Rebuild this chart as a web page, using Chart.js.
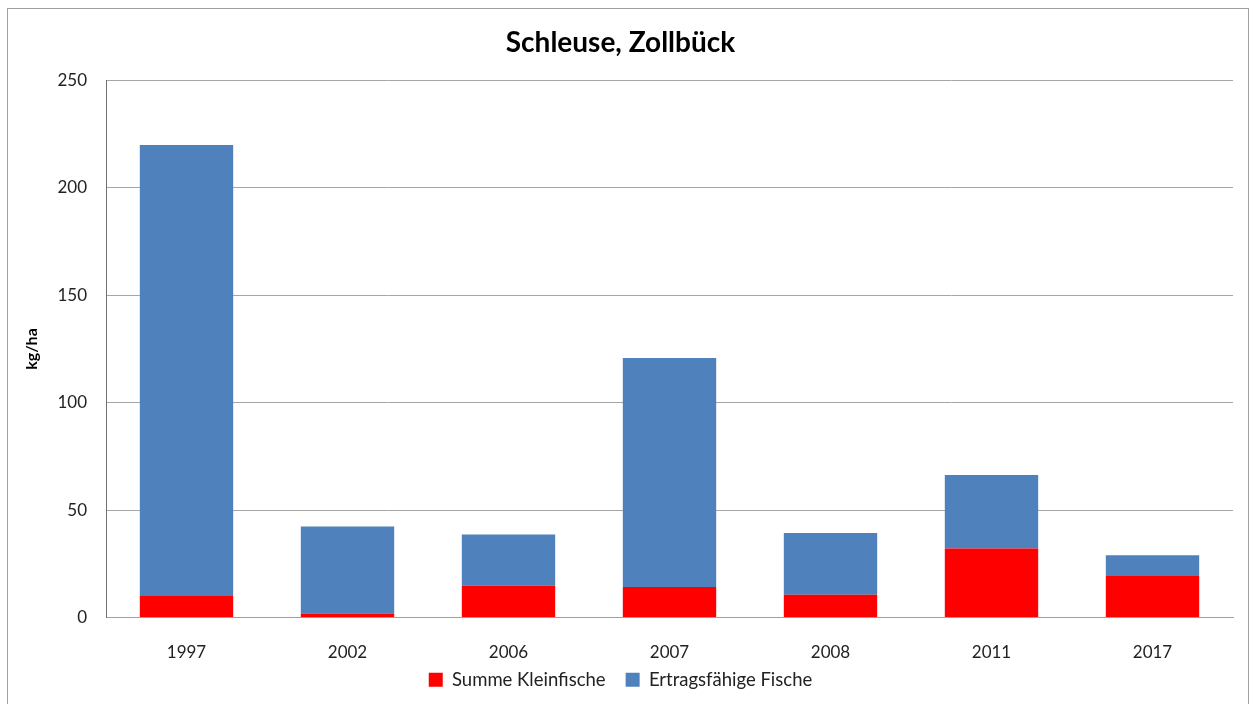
<!DOCTYPE html>
<html>
<head>
<meta charset="utf-8">
<script src="https://cdn.jsdelivr.net/npm/chart.js@4"></script>
<style>
  body { margin: 0; background: #fff; }
  #frame {
    position: absolute; left: 7px; top: 8px;
    width: 1240px; height: 700px;
    border: 1px solid #a0a0a0; overflow: hidden;
  }
</style>
</head>
<body>
<div id="frame"><canvas id="myChart" width="1240" height="700"></canvas></div>
<script>
// Jahre / Werte (kg/ha)
const jahre = ["1997", "2002", "2006", "2007", "2008", "2011", "2017"];
const kleinfische = [10, 1.9, 14.8, 14.2, 10.6, 32.1, 19.3];
const ertragsfaehig = [210, 40.5, 23.8, 106.6, 28.7, 34.2, 9.7];
const yTicks = [0, 50, 100, 150, 200, 250];

const schrift = "Lato, 'Open Sans', sans-serif";

// Legende etwas naeher an die Achsenbeschriftung schieben
const legendeHoch = {
  id: "legendeHoch",
  afterLayout(chart) {
    if (chart.legend) {
      chart.legend.top -= 14;
      chart.legend.bottom -= 14;
    }
  },
};

const ctx = document.getElementById("myChart");

new Chart(ctx, {
  type: "bar",
  data: {
    labels: jahre,
    datasets: [
      {
        label: "Summe Kleinfische",
        data: kleinfische,
        backgroundColor: "#FF0000",
        borderWidth: 0,
      },
      {
        label: "Ertragsfähige Fische",
        data: ertragsfaehig,
        backgroundColor: "#4F81BD",
        borderWidth: 0,
      },
    ],
  },
  plugins: [legendeHoch],
  options: {
    responsive: false,
    animation: false,
    layout: {
      padding: { left: 0, right: 15, top: 0, bottom: -4 },
    },
    datasets: {
      bar: { categoryPercentage: 1, barPercentage: 0.58 },
    },
    scales: {
      x: {
        stacked: true,
        grid: { display: false },
        border: { color: "#a0a0a0" },
        afterFit: (s) => {
          s.height = 47;
        },
        ticks: {
          color: "#222",
          padding: 17,
          font: { size: 17, family: schrift },
        },
      },
      y: {
        stacked: true,
        min: 0,
        max: 250,
        afterBuildTicks: (s) => {
          s.ticks = yTicks.map((v) => ({ value: v }));
        },
        afterFit: (s) => {
          s.width = 98;
        },
        grid: { color: "#a6a6a6", drawTicks: false },
        border: { color: "#707070" },
        ticks: {
          color: "#222",
          padding: 19,
          font: { size: 17, family: schrift },
        },
        title: {
          display: true,
          text: "kg/ha",
          color: "#000",
          padding: { top: 14, bottom: 0 },
          font: { size: 16, weight: "bold", family: schrift },
        },
      },
    },
    plugins: {
      title: {
        display: true,
        text: "Schleuse, Zollbück",
        color: "#000",
        padding: { top: 17, bottom: 21 },
        font: { size: 28, weight: "bold", family: schrift },
      },
      legend: {
        position: "bottom",
        labels: {
          color: "#222",
          boxWidth: 14,
          boxHeight: 14,
          padding: 20,
          font: { size: 18.5, family: schrift },
        },
      },
      tooltip: { enabled: false },
    },
  },
});
</script>
</body>
</html>
